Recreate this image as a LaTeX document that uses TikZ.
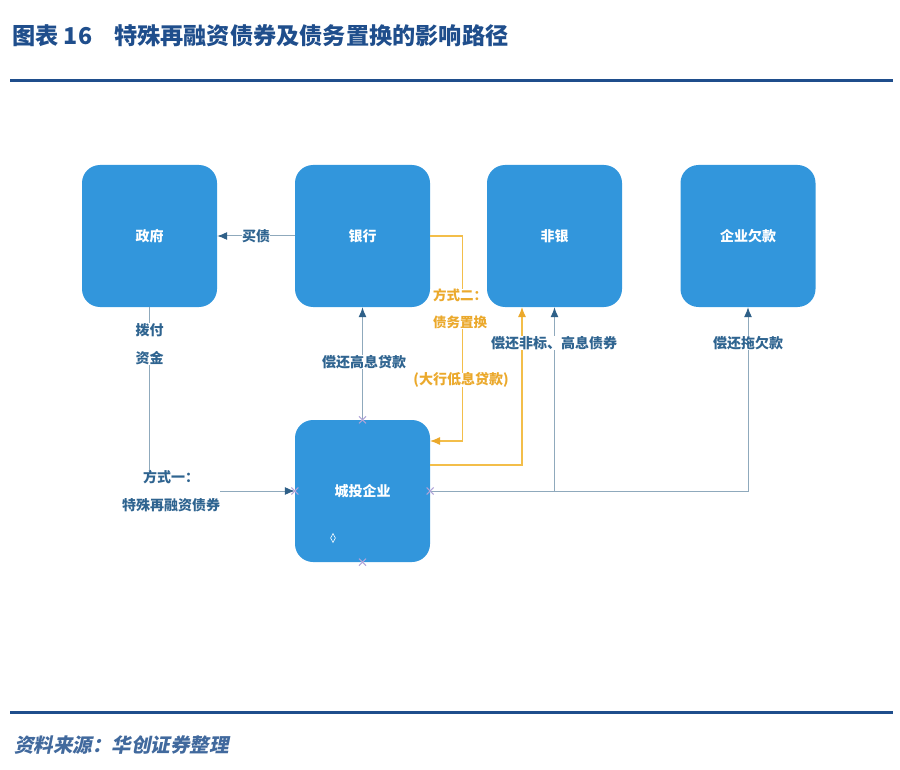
\documentclass[tikz,border=0pt]{standalone}
\usepackage{fontspec}
\setmainfont{Noto Sans CJK SC}
\newfontfamily\slantfont[FakeSlant=0.2]{Noto Sans CJK SC}
\usetikzlibrary{arrows.meta,positioning,shapes.geometric,shapes.misc}
\newcommand{\widecolon}{\symbol{"FF1A}}
\definecolor{boxblue}{HTML}{3296DC}
\definecolor{ruleblue}{HTML}{1F4E8C}
\definecolor{linegray}{HTML}{8FA9BC}
\definecolor{tipblue}{HTML}{2F6088}
\definecolor{textblue}{HTML}{2F6490}
\definecolor{lineorange}{HTML}{F3BE4A}
\definecolor{textorange}{HTML}{EBA92C}
\definecolor{handlemark}{HTML}{B0A4D8}
\tikzset{
  entity/.style={rectangle,rounded corners=18pt,fill=boxblue,text=white,font=\fontsize{14}{14}\selectfont\bfseries,minimum width=135pt,minimum height=142pt,inner sep=0pt},
  flow/.style={draw=linegray,line width=1pt,-{Latex[length=10pt,width=8pt,color=tipblue]}},
  swap/.style={draw=lineorange,line width=1.2pt,-{Latex[length=10pt,width=8pt,color=textorange]}},
  note/.style={fill=white,text=textblue,font=\fontsize{14}{28}\selectfont\bfseries,inner sep=0pt,align=center},
  swapnote/.style={note,text=textorange},
  handle/.style={cross out,draw=handlemark,line width=1pt,minimum size=6pt,inner sep=0pt},
}
\begin{document}
\begin{tikzpicture}[x=1pt,y=-1pt]
      \useasboundingbox (0,0) rectangle (900,770);
      \node[anchor=west,text=ruleblue,font=\fontsize{23.2}{24}\selectfont\bfseries,inner sep=0pt] (title) at (12,36) {图表 16\hspace{22pt}特殊再融资债券及债务置换的影响路径};
      \draw[ruleblue,line width=3pt] (10,81) -- (893,81);
      \draw[ruleblue,line width=3pt] (10,712) -- (893,712);
      \node[anchor=west,text=ruleblue!85,font=\fontsize{19.5}{20}\slantfont\bfseries,inner sep=0pt] (source) at (14,745) {资料来源\widecolon 华创证券整理};

      \node[entity] (gov) at (149.5,236) {政府};
      \node[entity] (bank) at (362.5,236) {银行};
      \node[entity] (nonbank) at (554.5,236) {非银};
      \node[entity] (arrears) at (748,236) {企业欠款};
      \node[entity] (lgfv) at (362.5,491) {城投企业};

      \coordinate (swapin) at (430,441);
      \coordinate (swapout) at (430,465);
      \coordinate (swapend) at (522,307);

      \draw[flow] (bank) -- (gov) node[note,midway] (buy) {买债};
      \draw[flow] (gov.south) |- (lgfv.west);
      \draw[flow] (lgfv.north) -- (bank.south);
      \draw[flow] (lgfv.east) -| (nonbank.south);
      \draw[flow] (lgfv.east) -| (arrears.south);
      \draw[swap] (bank.east) -- ++(32,0) |- (swapin);
      \draw[swap] (swapout) -| (swapend);

      \node[note] (fund) at (149.5,344) {拨付\\资金};
      \node[note] (way1) at (171,491) {方式一\widecolon\\特殊再融资债券};
      \node[note] (repay1) at (364,362) {偿还高息贷款};
      \node[note] (repay2) at (554,343) {偿还非标、高息债券};
      \node[note] (repay3) at (748,343) {偿还拖欠款};
      \node[swapnote,align=left,font=\fontsize{13.5}{27}\selectfont\bfseries] (way2) at (460,309) {方式二\widecolon\\债务置换};
      \node[swapnote] (bigbank) at (461,380) {(大行低息贷款)};

      \foreach \a in {north,south,west,east}
        \node[handle] (mark\a) at (lgfv.\a) {};
      \node[diamond,draw=white,line width=.6pt,minimum width=5pt,minimum height=9pt,inner sep=0pt] (spot) at (333,538) {};
\end{tikzpicture}
\end{document}
